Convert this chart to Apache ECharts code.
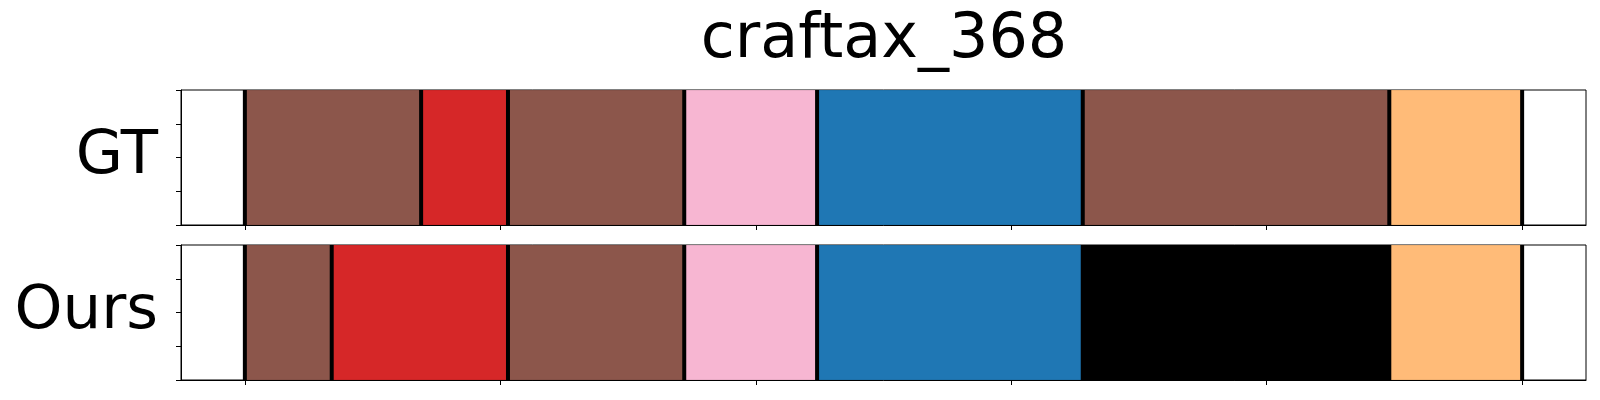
<!DOCTYPE html>
<html>
<head>
<meta charset="utf-8">
<script src="https://cdn.jsdelivr.net/npm/echarts@6/dist/echarts.min.js"></script>
<style>html,body{margin:0;padding:0;background:#fff;}#c{width:1600px;height:400px;}</style>
</head>
<body>
<div id="c"></div>
<script>
var title = 'craftax_368';
var rowNames = ['GT', 'Ours'];
var xTicks = [0, 100, 200, 300, 400, 500];
var yTicks = [0, 0.25, 0.5, 0.75, 1];
var gtBounds = [0, 69, 103, 172, 224, 328, 448, 500];
var gtLabels = ['brown', 'red', 'brown', 'pink', 'blue', 'brown', 'orange'];
var oursBounds = [0, 34, 103, 172, 224, 328, 448, 500];
var oursLabels = ['brown', 'red', 'brown', 'pink', 'blue', 'black', 'orange'];
var palette = {brown: '#8c564b', red: '#d62728', pink: '#f7b6d2', blue: '#1f77b4', orange: '#ffbb78', black: '#000000'};

var FONT = 'DejaVu Sans';
var grids = [
  {left: 181, top: 90, right: 14, height: 135},
  {left: 181, top: 245, right: 14, height: 135}
];

function segData(bounds, labels) {
  var out = [];
  for (var i = 0; i < labels.length; i++) {
    out.push({value: [bounds[i], bounds[i + 1]], itemStyle: {color: palette[labels[i]]}});
  }
  return out;
}

function rectItem(params, api) {
  var p0 = api.coord([api.value(0), 1]);
  var p1 = api.coord([api.value(1), 0]);
  return {
    type: 'rect',
    shape: {x: p0[0], y: p0[1], width: p1[0] - p0[0], height: p1[1] - p0[1]},
    style: {fill: api.visual('color'), stroke: 'rgba(0,0,0,0.12)', lineWidth: 1}
  };
}
function lineItem(params, api) {
  var a = api.coord([api.value(0), 0]);
  var b = api.coord([api.value(0), 1]);
  return {
    type: 'line',
    shape: {x1: a[0], y1: a[1], x2: b[0], y2: b[1]},
    style: {stroke: '#000', lineWidth: 4}
  };
}

var xAxes = [], yAxes = [], series = [];
[0, 1].forEach(function (i) {
  xAxes.push({
    type: 'value', gridIndex: i, min: -25, max: 525,
    splitLine: {show: false},
    axisLine: {show: true, onZero: false, lineStyle: {color: '#000', width: 1}},
    axisTick: {show: true, length: 5, customValues: xTicks, lineStyle: {color: '#000', width: 1}},
    axisLabel: {show: false}
  });
  yAxes.push({
    type: 'value', gridIndex: i, min: 0, max: 1, interval: 0.25,
    name: rowNames[i], nameLocation: 'middle', nameRotate: 0, nameGap: 23,
    nameTextStyle: {fontFamily: FONT, fontSize: 61, color: '#000', align: 'right', verticalAlign: 'middle', padding: [0, 0, 12, 0]},
    splitLine: {show: false},
    axisLine: {show: true, onZero: false, lineStyle: {color: '#000', width: 1}},
    axisTick: {show: true, length: 5, customValues: yTicks, lineStyle: {color: '#000', width: 1}},
    axisLabel: {show: false}
  });
});
series.push({type: 'custom', xAxisIndex: 0, yAxisIndex: 0, renderItem: rectItem, data: segData(gtBounds, gtLabels), silent: true, clip: true});
series.push({type: 'custom', xAxisIndex: 0, yAxisIndex: 0, renderItem: lineItem, data: gtBounds.map(function (v) { return [v]; }), silent: true, z: 5});
series.push({type: 'custom', xAxisIndex: 1, yAxisIndex: 1, renderItem: rectItem, data: segData(oursBounds, oursLabels), silent: true, clip: true});
series.push({type: 'custom', xAxisIndex: 1, yAxisIndex: 1, renderItem: lineItem, data: oursBounds.map(function (v) { return [v]; }), silent: true, z: 5});

var chart = echarts.init(document.getElementById('c'), null, {renderer: 'canvas'});
chart.setOption({
  animation: false,
  backgroundColor: '#fff',
  title: {text: title, left: 879, top: 5, textAlign: 'center',
    textStyle: {fontFamily: FONT, fontSize: 62, fontWeight: 'normal', color: '#000'}},
  grid: grids.map(function (g) { return Object.assign({show: true, borderColor: '#000', borderWidth: 1, backgroundColor: 'transparent'}, g); }),
  xAxis: xAxes,
  yAxis: yAxes,
  series: series
});
</script>
</body>
</html>
